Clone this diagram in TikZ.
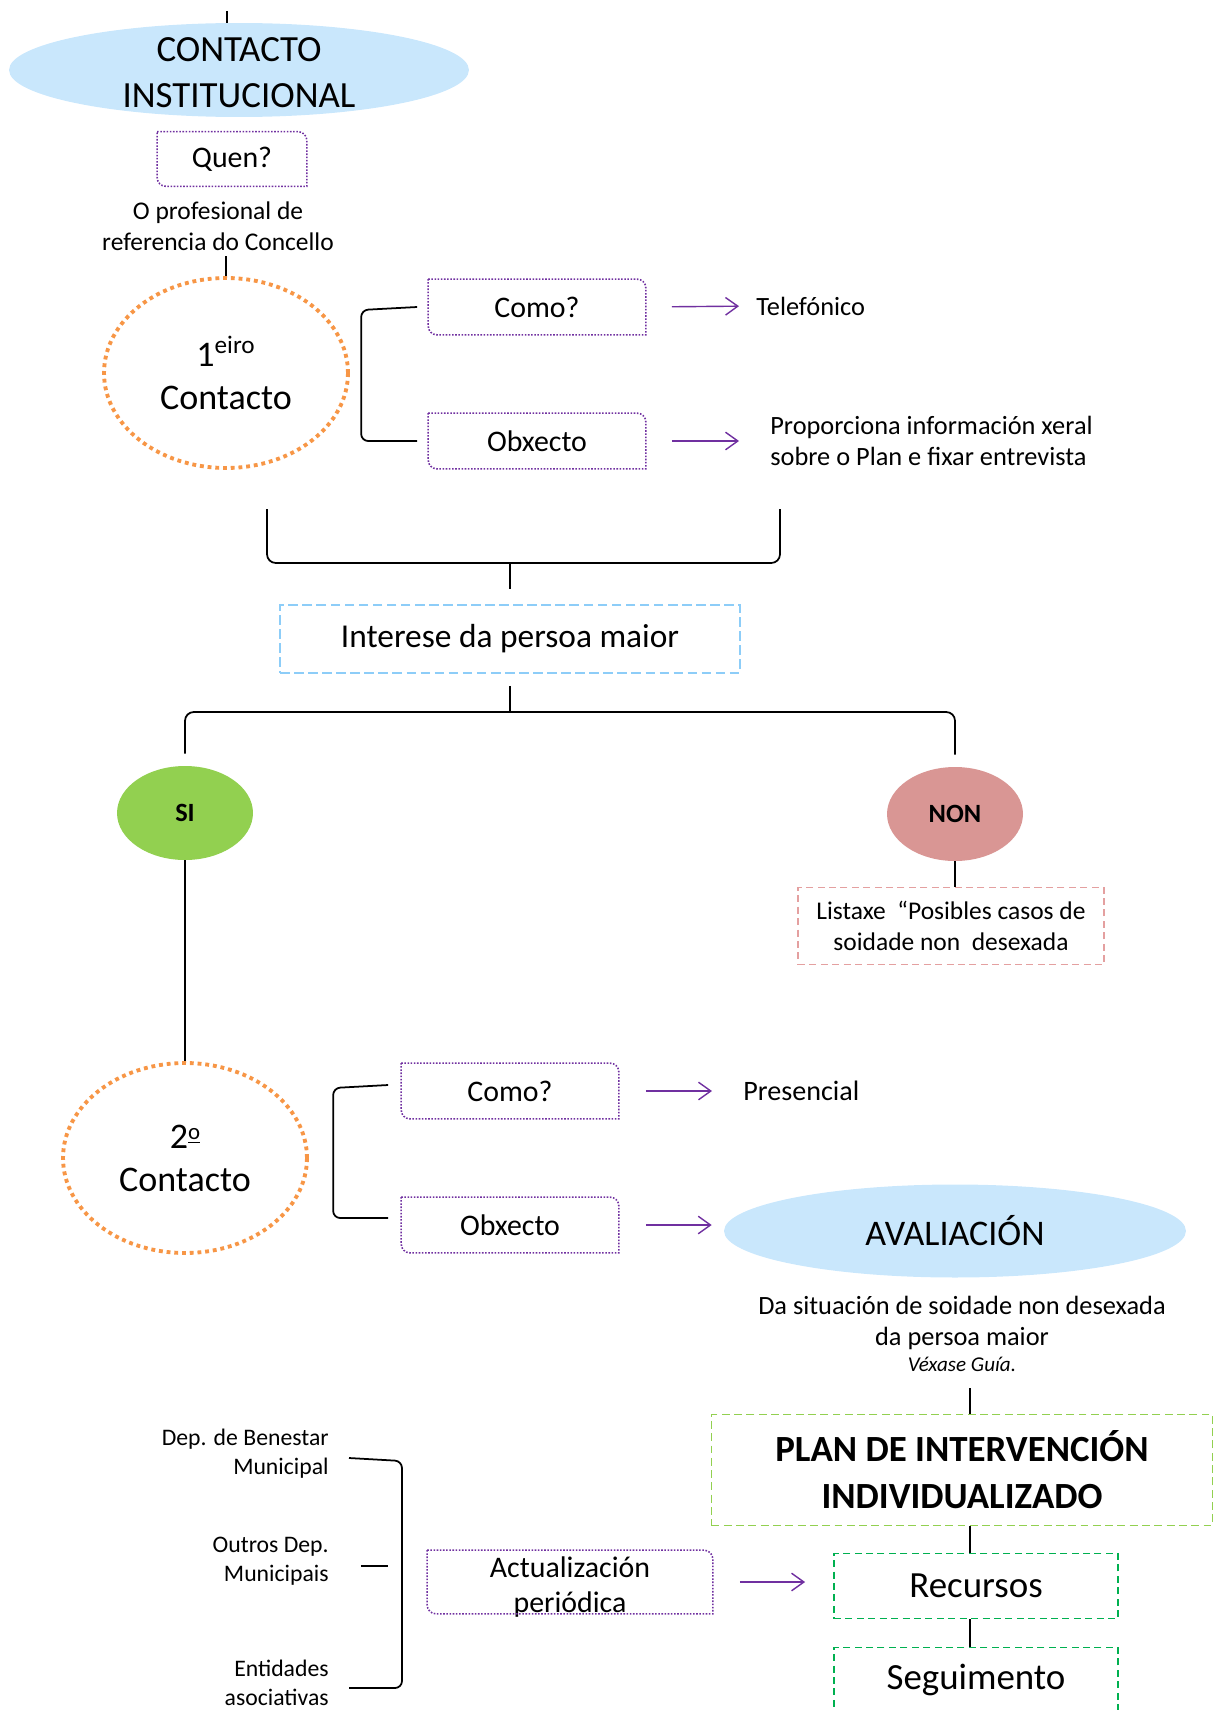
\documentclass[tikz,border=0pt]{standalone}
\usepackage{fontspec}
\setmainfont{Carlito}
\usetikzlibrary{shapes.geometric,arrows.meta}

\definecolor{skyfill}{RGB}{201,231,252}
\definecolor{sigreen}{RGB}{146,208,80}
\definecolor{nonpink}{RGB}{217,150,148}
\definecolor{orangedot}{RGB}{247,150,70}
\definecolor{purpledot}{RGB}{112,48,160}
\definecolor{intblue}{RGB}{141,205,248}
\definecolor{lstpink}{RGB}{228,160,160}
\definecolor{plangreen}{RGB}{146,208,80}
\definecolor{recgreen}{RGB}{0,176,80}

\begin{document}
\begin{tikzpicture}
  [x=0.02cm,y=-0.02cm,
   every node/.style={inner sep=0pt,align=center},
   conn/.style={line width=1pt,black},
   arr/.style={line width=0.8pt,purpledot,-{Straight Barb[length=7pt,width=10pt]}},
   oval/.style={ellipse,fill=skyfill},
   contact/.style={ellipse,draw=orangedot,line width=2.2pt,dash pattern=on 2.2pt off 2.2pt,
     minimum width=4.88cm,minimum height=3.8cm,font=\fontsize{20.5}{24.4}\selectfont},
   qbox/.style={minimum width=4.34cm,minimum height=1.1cm,font=\fontsize{17}{20}\selectfont},
   qline/.style={purpledot,line width=0.9pt,dash pattern=on 0.9pt off 0.9pt},
   answer/.style={anchor=west,align=left,font=\fontsize{15}{17.6}\selectfont},
   note/.style={font=\fontsize{14.5}{17.6}\selectfont},
   dept/.style={anchor=east,align=right,font=\fontsize{13.5}{16.4}\selectfont},
   choice/.style={ellipse,minimum width=2.72cm,minimum height=1.88cm,font=\bfseries\fontsize{15}{18}\selectfont},
   planbox/.style={minimum width=5.68cm,minimum height=1.3cm,draw=recgreen,line width=1.1pt,
     dash pattern=on 4pt off 2.5pt,font=\fontsize{21}{25}\selectfont}]
\useasboundingbox (0,0) rectangle (1215,1710);

\coordinate (top) at (227,11);
\node (ctinst)[oval,minimum width=9.2cm,minimum height=1.88cm,
  label={[font=\fontsize{21}{26.5}\selectfont,yshift=-0.05cm]center:CONTACTO\\INSTITUCIONAL}] at (239,70) {};
\node (quen)[qbox,minimum width=2.98cm,minimum height=1.08cm] at (232,159) {Quen?};
\node (prof)[note] at (218,226) {O profesional de\\referencia do Concello};
\node (c1)[contact] at (226,373) {1\textsuperscript{eiro}\\Contacto};

\node (como1)[qbox] at (537,307) {Como?};
\node (obx1)[qbox] at (537,441) {Obxecto};
\node (tel)[answer] at (756,306) {Telefónico};
\node (prop)[answer] at (770,441) {Proporciona información xeral\\sobre o Plan e fixar entrevista};

\coordinate (bl) at (267,509);
\coordinate (br) at (780,509);
\coordinate (bmid) at (510,563);
\node (int)[draw=intblue,line width=1.1pt,dash pattern=on 5.5pt off 2.5pt,minimum width=9.2cm,
  minimum height=1.36cm,font=\fontsize{19}{22}\selectfont] at (510,639) {Interese da persoa maior};
\coordinate (tmid) at (510,712);
\node (si)[choice,fill=sigreen] at (185,813) {SI};
\node (non)[choice,fill=nonpink] at (955,814) {NON};
\node (lst)[note,draw=lstpink,line width=0.9pt,dash pattern=on 4pt off 2.5pt,minimum width=6.12cm,
  minimum height=1.54cm] at (951,926) {Listaxe \ “Posibles casos de\\soidade non \ desexada};

\node (c2)[contact] at (185,1158)
  {2{\fontsize{13}{13}\selectfont\raisebox{5pt}{\underline{o}}}\\Contacto};
\node (como2)[qbox] at (510,1091) {Como?};
\node (obx2)[qbox] at (510,1225) {Obxecto};
\node (pres)[answer,font=\fontsize{16}{19}\selectfont] at (743,1091) {Presencial};
\node (aval)[oval,minimum width=9.24cm,minimum height=1.86cm,font=\fontsize{20.5}{24}\selectfont] at (955,1231) {AVALIACIÓN};
\node (desc)[font=\fontsize{15}{17.6}\selectfont] at (962,1334)
  {Da situación de soidade non desexada\\da persoa maior\\[-3pt]{\fontsize{12}{14}\selectfont\itshape Véxase Guía.}};

\node (plan)[draw=plangreen,line width=1pt,dash pattern=on 4.5pt off 2.5pt,minimum width=10.02cm,
  minimum height=2.22cm,font=\bfseries\fontsize{21}{26.7}\selectfont] at (962,1470) {PLAN DE INTERVENCIÓN\\INDIVIDUALIZADO};
\node (rec)[planbox] at (976,1586) {Recursos};
\node (seg)[planbox] at (976,1680) {Seguimento};

\node (dep1)[dept] at (329,1454) {Dep. de Benestar\\Municipal};
\node (dep2)[dept] at (329,1561) {Outros Dep.\\Municipais};
\node (dep3)[dept] at (329,1683) {Entidades\\asociativas};
\node (act)[qbox,minimum width=5.7cm,minimum height=1.26cm,
  label={[font=\fontsize{17}{19.8}\selectfont,yshift=-0.1cm]center:Actualización\\periódica}] at (570,1582) {};

% purple boxes, two round corners
\foreach \n in {quen,como1,obx1,como2,obx2,act}
  \draw[qline] (\n.north west) -- ([xshift=-5pt]\n.north east) arc[start angle=90,end angle=0,radius=5pt]
    -- (\n.south east) -- ([xshift=5pt]\n.south west) arc[start angle=270,end angle=180,radius=5pt] -- cycle;

\draw[conn] (top) -- (top |- ctinst.north);
\draw[conn,shorten >=3pt] (c1.north) -- (c1.north |- prof.south);
\draw[conn,rounded corners=4pt] ([xshift=-0.22cm]como1.west) -- ++(-56,3) |- ([xshift=-0.22cm]obx1.west);
\draw[arr,shorten <=0.52cm,shorten >=0.34cm] (como1.east) -- (tel.west);
\draw[arr,shorten <=0.52cm,shorten >=0.62cm] (obx1.east) -- (prop.west);

\draw[conn,rounded corners=5pt] (bl) |- (bmid) -| (br);
\draw[conn,shorten >=0.3cm] (bmid) -- (int.north);
\draw[conn] (int.south) ++(0,12) -- (tmid);
\draw[conn,rounded corners=5pt,shorten >=0.24cm] (si.north) ++(0,-12) |- (tmid) -| (non.north);
\draw[conn] (non.south) -- (non.south |- lst.north);
\draw[conn] (si) -- (c2);

\draw[conn,rounded corners=4pt] ([xshift=-0.26cm,yshift=0.12cm]como2.west) -- ++(-55,3)
  |- ([xshift=-0.26cm,yshift=0.14cm]obx2.west);
\draw[arr,shorten <=0.54cm,shorten >=0.62cm] (como2.east) -- (pres.west);
\draw[arr,shorten <=0.54cm,shorten >=0.24cm] (obx2.east) -- (obx2.east -| aval.west);

\draw[conn] ([xshift=0.16cm]plan.north) -- ++(0,-26);
\draw[conn] ([xshift=0.16cm]plan.south) -- ([xshift=0.16cm]plan.south |- rec.north);
\draw[conn] ([xshift=-0.12cm]rec.south) -- ([xshift=-0.12cm]rec.south |- seg.north);

\draw[conn,rounded corners=4pt] ([xshift=0.4cm,yshift=-0.08cm]dep1.east) -- ++(53,3)
  |- ([xshift=0.4cm,yshift=-0.1cm]dep3.east);
\draw[conn] ([xshift=0.64cm,yshift=-0.1cm]dep2.east) -- ++(27,0);
\draw[arr,shorten <=0.54cm,shorten >=0.56cm] (act.east) -- (act.east -| rec.west);
\end{tikzpicture}
\end{document}
